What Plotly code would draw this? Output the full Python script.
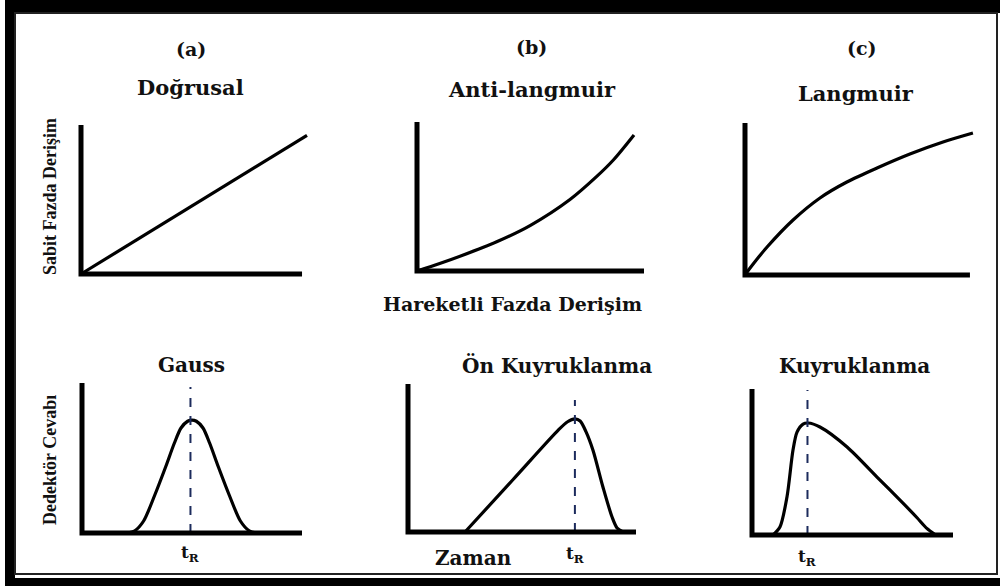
import plotly.graph_objects as go

# ---------------------------------------------------------------------------
# Data (each panel in its own 0-100 units; x grows right, y grows up)
# ---------------------------------------------------------------------------
# (a) linear isotherm
lin_x = [0, 100]
lin_y = [0, 93]

# (b) anti-Langmuir isotherm
anti_x = [0, 10, 20.4, 35.1, 49.8, 67.4, 79.2, 86.5, 95.6]
anti_y = [0, 5, 10.7, 19.6, 30.5, 48, 63.5, 74.5, 91.3]

# (c) Langmuir isotherm
lang_x = [0, 2.2, 9.6, 20.9, 32.6, 44.3, 57.4, 71.7, 86.1, 99.1]
lang_y = [0, 4.6, 18.4, 36.2, 50.7, 61.2, 70.4, 79.6, 87.5, 93.4]

# Gaussian peak
gauss_x = [20.5, 24, 28, 33, 38, 42, 45, 48, 50, 52, 55, 58, 62, 67, 72, 76, 79.5]
gauss_y = [0, 1.5, 8, 25, 44, 60, 70, 74.5, 75.3, 74.5, 70, 60, 44, 25, 8, 1.5, 0]

# fronting peak
front_x = [25, 46, 66, 70, 73.2, 75.5, 78, 81.1, 85.5, 89.5, 91.7, 94.3]
front_y = [0, 35.3, 69, 74.5, 76.4, 75, 68, 55.4, 30.4, 10.1, 2.7, 0]

# tailing peak
tail_x = [10.4, 13.9, 17.4, 20.4, 22.4, 25.4, 27.9, 33.8, 47.3, 62.2, 75, 82, 87, 91]
tail_y = [0, 5.5, 26, 58.2, 70.5, 76, 76.7, 74, 60.3, 39.7, 22, 12, 4.5, 0.3]

# retention-time markers (x position, dashed-line height)
tr_x = [49.3, 73.2, 27.6]
tr_top = [97.3, 89.2, 99.3]

panel_letters = ["(a)", "(b)", "(c)"]
iso_titles = ["Doğrusal", "Anti-langmuir", "Langmuir"]
peak_titles = ["Gauss", "Ön Kuyruklanma", "Kuyruklanma"]

# ---------------------------------------------------------------------------
# Layout helpers
# ---------------------------------------------------------------------------
FW, FH = 1000, 586


def px(x):
    return x / FW


def py(y):
    return 1 - y / FH


PAD = 4
# origin pixel (ox, oy), pixel span of 100 units (w, h), x-axis length in units
panels = [
    dict(ox=81, oy=274, w=226, h=149, xend=97.8),
    dict(ox=417, oy=271, w=227, h=149, xend=100),
    dict(ox=745, oy=275, w=230, h=152, xend=97.8),
    dict(ox=82, oy=533, w=220, h=150, xend=100),
    dict(ox=408, oy=532, w=228, h=148, xend=100),
    dict(ox=752, oy=535, w=201, h=146, xend=100),
]

fig = go.Figure()
layout_axes = {}
shapes = []

for i, p in enumerate(panels, start=1):
    sx = "" if i == 1 else str(i)
    x0 = p["ox"] - PAD * p["w"] / 100
    x1 = p["ox"] + (100 + PAD) * p["w"] / 100
    ybot = p["oy"] + PAD * p["h"] / 100
    ytop = p["oy"] - (100 + PAD) * p["h"] / 100
    layout_axes["xaxis" + sx] = dict(
        domain=[px(x0), px(x1)], range=[-PAD, 100 + PAD], visible=False,
        anchor="y" + sx, fixedrange=True)
    layout_axes["yaxis" + sx] = dict(
        domain=[py(ybot), py(ytop)], range=[-PAD, 100 + PAD], visible=False,
        anchor="x" + sx, fixedrange=True)
    # L-shaped axes of the panel
    shapes.append(dict(
        type="path", xref="x" + sx, yref="y" + sx,
        path=f"M 0,100 L 0,0 L {p['xend']},0",
        line=dict(color="black", width=5), layer="above"))

curves = [(lin_x, lin_y), (anti_x, anti_y), (lang_x, lang_y),
          (gauss_x, gauss_y), (front_x, front_y), (tail_x, tail_y)]

for i, (cx, cy) in enumerate(curves, start=1):
    sx = "" if i == 1 else str(i)
    fig.add_trace(go.Scatter(
        x=cx, y=cy, mode="lines", xaxis="x" + sx, yaxis="y" + sx,
        line=dict(color="black", width=3.2, shape="spline", smoothing=0.8),
        hoverinfo="skip", showlegend=False))

# dashed retention-time lines
for k in range(3):
    sx = str(k + 4)
    fig.add_trace(go.Scatter(
        x=[tr_x[k], tr_x[k]], y=[0, tr_top[k]], mode="lines",
        xaxis="x" + sx, yaxis="y" + sx,
        line=dict(color="#1c2b5c", width=2, dash="dash"),
        hoverinfo="skip", showlegend=False))

# ---------------------------------------------------------------------------
# Frame
# ---------------------------------------------------------------------------
frame = [
    (5, 0, 1000, 13),
    (5, 0, 15, 586),
    (5, 578, 1000, 586),
]
for (a, b, c, d) in frame:
    shapes.append(dict(type="rect", xref="paper", yref="paper",
                       x0=px(a), x1=px(c), y0=py(d), y1=py(b),
                       fillcolor="black", line=dict(width=0), layer="below"))
shapes.append(dict(type="rect", xref="paper", yref="paper",
                   x0=px(15), x1=px(997), y0=py(574), y1=py(13),
                   line=dict(color="#222222", width=2), layer="below"))

# ---------------------------------------------------------------------------
# Text
# ---------------------------------------------------------------------------
SERIF = "DejaVu Serif"
annotations = []


def note(text, x, y, size, family=SERIF, bold=True, angle=0, xref="paper"):
    annotations.append(dict(
        text=f"<b>{text}</b>" if bold else text,
        x=x if xref != "paper" else px(x), y=py(y),
        xref=xref, yref="paper", showarrow=False,
        xanchor="center", yanchor="middle", textangle=angle,
        font=dict(family=family, size=size, color="#111111")))


for lab, xc, yc in zip(panel_letters, [191, 531, 862], [49, 47, 48]):
    note(lab, xc, yc, 19)
for lab, xc, yc in zip(iso_titles, [190, 532, 856], [87, 89, 93]):
    note(lab, xc, yc, 21)
for lab, xc, yc in zip(peak_titles, [191, 557, 854], [365, 365, 366]):
    note(lab, xc, yc, 20)

note("Hareketli Fazda Derişim", 512, 304, 19)
note("Zaman", 473, 558, 20)
note("Sabit Fazda Derişim", 50, 197, 18, family="Liberation Serif", angle=-90)
note("Dedektör Cevabı", 50, 460, 18, family="Liberation Serif", angle=-90)

for k, yc in enumerate([553, 554, 557]):
    note("t<sub>R</sub>", tr_x[k], yc, 17, xref="x" + str(k + 4))

fig.update_layout(
    width=FW, height=FH,
    margin=dict(l=0, r=0, t=0, b=0),
    paper_bgcolor="white", plot_bgcolor="rgba(0,0,0,0)",
    shapes=shapes, annotations=annotations, showlegend=False,
    **layout_axes)

fig.write_html("out.html")
